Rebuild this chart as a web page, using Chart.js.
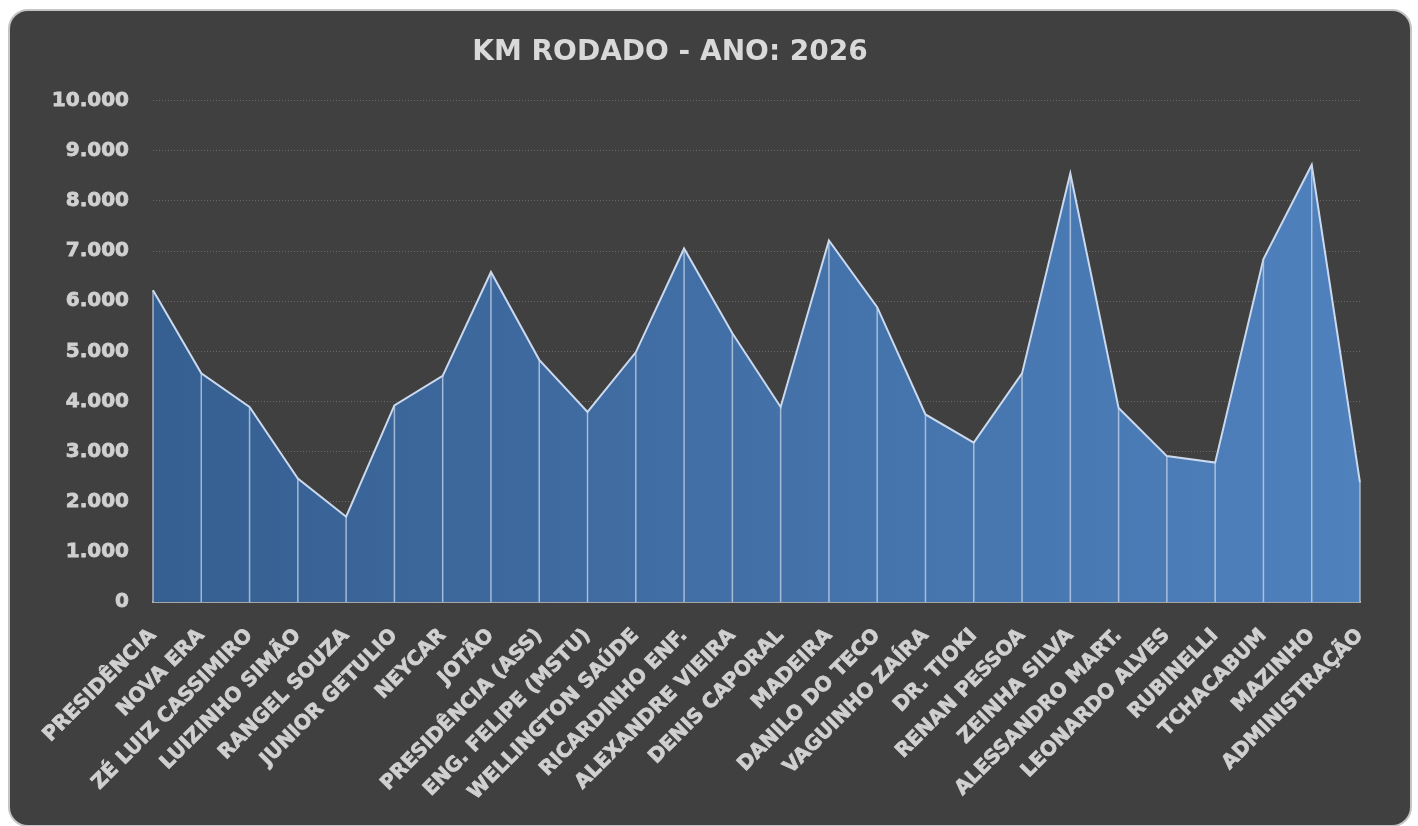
<!DOCTYPE html>
<html lang="pt-BR">
<head>
<meta charset="utf-8">
<title>KM RODADO - ANO: 2026</title>
<script src="https://cdn.jsdelivr.net/npm/chart.js@4.4.1/dist/chart.umd.min.js"></script>
<style>
  html, body { margin: 0; padding: 0; background: #ffffff; }
  body { width: 1418px; height: 826px; position: relative; overflow: hidden; }
  .card {
    position: absolute; left: 8px; top: 9px; width: 1400px; height: 814px;
    background: #404040; border: 2px solid #c4c4c4; border-radius: 20px;
  }
  /* canvas puxado 20px pra esquerda pra centralizar o titulo como no original */
  #wrap { position: absolute; left: -20px; top: 0; width: 1438px; height: 826px; }
</style>
</head>
<body>
<div class="card"></div>
<div id="wrap"><canvas id="kmChart"></canvas></div>
<script>
const categorias = [
  'PRESIDÊNCIA', 'NOVA ERA', 'ZÉ LUIZ CASSIMIRO', 'LUIZINHO SIMÃO', 'RANGEL SOUZA',
  'JUNIOR GETULIO', 'NEYCAR', 'JOTÃO', 'PRESIDÊNCIA (ASS)', 'ENG. FELIPE (MSTU)',
  'WELLINGTON SAÚDE', 'RICARDINHO ENF.', 'ALEXANDRE VIEIRA', 'DENIS CAPORAL', 'MADEIRA',
  'DANILO DO TECO', 'VAGUINHO ZAÍRA', 'DR. TIOKI', 'RENAN PESSOA', 'ZEINHA SILVA',
  'ALESSANDRO MART.', 'LEONARDO ALVES', 'RUBINELLI', 'TCHACABUM', 'MAZINHO', 'ADMINISTRAÇÃO'
];
const kmRodado = [
  6220, 4560, 3890, 2460, 1700,
  3920, 4510, 6580, 4830, 3790,
  4980, 7050, 5360, 3890, 7210,
  5880, 3740, 3180, 4560, 8550,
  3870, 2910, 2780, 6840, 8720, 2380
];
const yMin = 0;
const yMax = 10000;
const yStep = 1000;

const ctx = document.getElementById('kmChart').getContext('2d');

function fmtMil(v) {
  return String(v).replace(/\B(?=(\d{3})+(?!\d))/g, '.');
}

// linhas verticais de cada ponto até o eixo (drop lines do Excel)
const dropLines = {
  id: 'dropLines',
  afterDatasetsDraw(chart) {
    const meta = chart.getDatasetMeta(0);
    const y0 = chart.scales.y.getPixelForValue(0);
    const c = chart.ctx;
    c.save();
    c.strokeStyle = 'rgba(200, 214, 234, 0.75)';
    c.lineWidth = 1.5;
    meta.data.forEach(pt => {
      c.beginPath();
      c.moveTo(pt.x, y0);
      c.lineTo(pt.x, pt.y);
      c.stroke();
    });
    c.restore();
  }
};

let chart = new Chart(ctx, {
  type: 'line',
  data: {
    labels: categorias,
    datasets: [{
      label: 'KM RODADO',
      data: kmRodado,
      borderColor: '#cbd9ee',
      borderWidth: 2,
      pointRadius: 0,
      tension: 0,
      fill: 'origin',
      backgroundColor: (context) => {
        const area = context.chart.chartArea;
        if (!area) return '#4a78b0';
        const g = context.chart.ctx.createLinearGradient(area.left, 0, area.right, 0);
        g.addColorStop(0, '#365f91');
        g.addColorStop(1, '#4f81bd');
        return g;
      }
    }]
  },
  options: {
    responsive: true,
    maintainAspectRatio: false,
    animation: false,
    layout: { padding: { top: 10, left: 0, right: 58, bottom: 0 } },
    plugins: {
      legend: { display: false },
      tooltip: { enabled: false },
      title: {
        display: true,
        text: 'KM RODADO - ANO: 2026',
        color: '#d9d9d9',
        font: { family: 'DejaVu Sans', size: 28, weight: 'bold' },
        padding: { top: 26, bottom: 31 }
      }
    },
    scales: {
      x: {
        offset: false,
        grid: { display: false },
        border: { display: true, color: '#a6a6a6', width: 2 },
        ticks: {
          color: '#d0d0d0',
          textStrokeColor: '#d0d0d0',
          textStrokeWidth: 0.8,
          font: { family: 'DejaVu Sans', size: 20, weight: 'bold' },
          minRotation: 45,
          maxRotation: 45,
          autoSkip: false,
          padding: 14
        },
        afterFit: (s) => { s.height = 224; }
      },
      y: {
        min: yMin,
        max: yMax,
        grid: { color: '#6a6a6a', lineWidth: 1, drawTicks: false },
        border: { display: false, dash: [1, 2] },
        ticks: {
          stepSize: yStep,
          color: '#d0d0d0',
          textStrokeColor: '#d0d0d0',
          textStrokeWidth: 0.8,
          font: { family: 'DejaVu Sans', size: 20, weight: 'bold' },
          padding: 24,
          callback: (v) => fmtMil(v)
        },
        afterFit: (s) => { s.width = 173; }
      }
    }
  },
  plugins: [dropLines]
});
</script>
</body>
</html>
